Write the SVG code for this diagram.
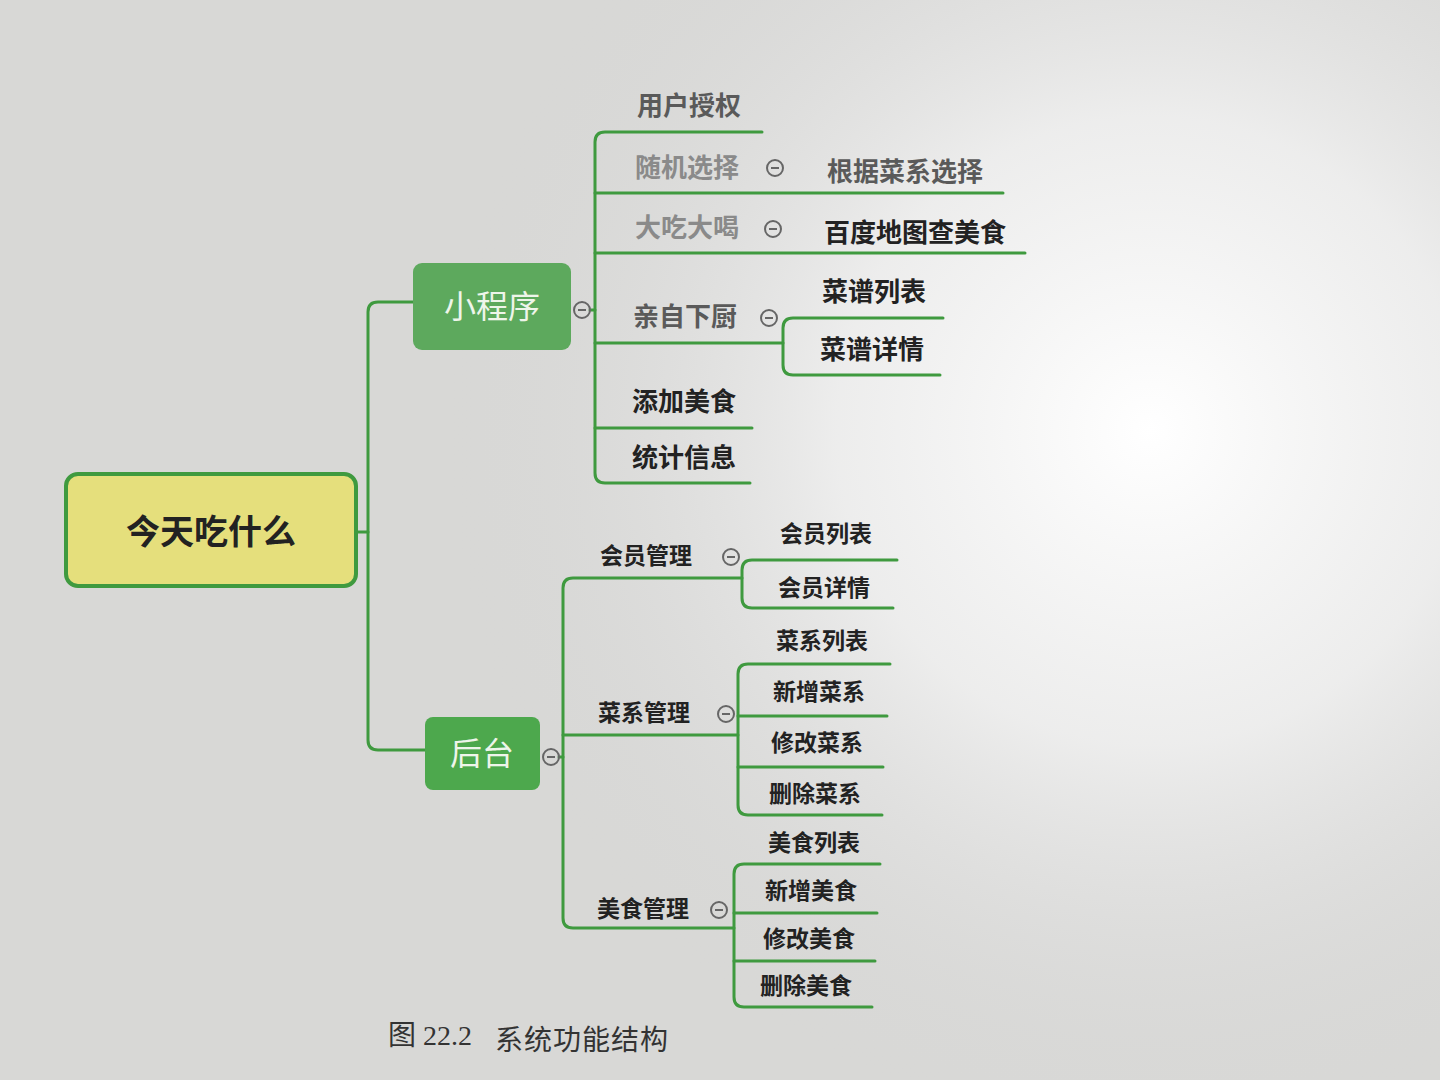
<svg xmlns="http://www.w3.org/2000/svg" xmlns:xlink="http://www.w3.org/1999/xlink" width="1440" height="1080" viewBox="0 0 1440 1080">
<defs>
<radialGradient id="glow" cx="1150" cy="430" r="700" gradientUnits="userSpaceOnUse">
<stop offset="0" stop-color="#ffffff" stop-opacity="1"/>
<stop offset="0.45" stop-color="#f2f2f2" stop-opacity="0.8"/>
<stop offset="1" stop-color="#d6d6d6" stop-opacity="0"/>
</radialGradient>
<g id="col">
<circle cx="0" cy="0" r="8" fill="none" stroke="#666" stroke-width="2"/>
<line x1="-4" y1="0" x2="4" y2="0" stroke="#666" stroke-width="2"/>
</g>
<style>
.bg{fill:#d8d8d6}
.ln{fill:none;stroke:#3f9a3f;stroke-width:3;stroke-linecap:round}
.t{font-family:"Noto Sans CJK SC","Noto Sans",sans-serif;font-weight:bold;fill:#222}
.t1{font-size:26px}
.t2{font-size:23px}
.g1{fill:#5a5a5a}
.g2{fill:#8a8a8a}
.w{fill:#eef5ea;font-family:"Noto Sans CJK SC","Noto Sans",sans-serif;font-size:32px}
.cap{font-family:"Liberation Serif","Noto Sans CJK SC",serif;font-size:28px;fill:#333}
</style>
</defs>
<rect class="bg" x="0" y="0" width="1440" height="1080"/>
<rect x="0" y="0" width="1440" height="1080" fill="url(#glow)"/>

<g id="connectors">
<path class="ln" d="M357,532 H368"/>
<path class="ln" d="M413,302 H378 Q368,302 368,312 V740 Q368,750 378,750 H425"/>
<path class="ln" d="M590,310 H595"/>
<path class="ln" d="M762,132 H605 Q595,132 595,142 V473 Q595,483 605,483 H750"/>
<path class="ln" d="M595,193 H1003"/>
<path class="ln" d="M595,253 H1025"/>
<path class="ln" d="M595,343 H783"/>
<path class="ln" d="M943,318 H793 Q783,318 783,328 V365 Q783,375 793,375 H940"/>
<path class="ln" d="M595,428 H752"/>
<path class="ln" d="M559,757 H563"/>
<path class="ln" d="M742,578 H573 Q563,578 563,588 V918 Q563,928 573,928 H734"/>
<path class="ln" d="M563,735 H738"/>
<path class="ln" d="M897,560 H752 Q742,560 742,570 V598 Q742,608 752,608 H893"/>
<path class="ln" d="M890,664 H748 Q738,664 738,674 V805 Q738,815 748,815 H882"/>
<path class="ln" d="M738,716 H887"/>
<path class="ln" d="M738,767 H883"/>
<path class="ln" d="M880,864 H744 Q734,864 734,874 V997 Q734,1007 744,1007 H872"/>
<path class="ln" d="M734,913 H877"/>
<path class="ln" d="M734,961 H875"/>
</g>

<g id="root">
<rect x="66" y="474" width="290" height="112" rx="12" fill="#e5df7c" stroke="#3f9a3f" stroke-width="4"/>
<text class="t" x="211" y="544" font-size="34" text-anchor="middle" fill="#111">今天吃什么</text>
</g>

<g id="xiaochengxu">
<rect x="413" y="263" width="158" height="87" rx="9" fill="#5da95d"/>
<text class="w" x="492" y="318" text-anchor="middle">小程序</text>
<use xlink:href="#col" href="#col" x="582" y="310"/>
</g>

<g id="houtai">
<rect x="425" y="717" width="115" height="73" rx="8" fill="#4da84d"/>
<text class="w" x="482" y="765" text-anchor="middle">后台</text>
<use xlink:href="#col" href="#col" x="551" y="757"/>
</g>

<g id="n-yonghushouquan"><text class="t t1 g1" x="637" y="115">用户授权</text></g>
<g id="n-suijixuanze"><text class="t t1 g2" x="635" y="177">随机选择</text><use xlink:href="#col" href="#col" x="775" y="168"/></g>
<g id="n-genjucaixi"><text class="t t1 g1" x="827" y="181">根据菜系选择</text></g>
<g id="n-dachidahe"><text class="t t1 g2" x="635" y="237">大吃大喝</text><use xlink:href="#col" href="#col" x="773" y="229"/></g>
<g id="n-baidu"><text class="t t1" x="824" y="242">百度地图查美食</text></g>
<g id="n-qinzixiachu"><text class="t t1 g1" x="633" y="326">亲自下厨</text><use xlink:href="#col" href="#col" x="769" y="318"/></g>
<g id="n-caipuliebiao"><text class="t t1" x="822" y="301">菜谱列表</text></g>
<g id="n-caipuxiangqing"><text class="t t1" x="820" y="359">菜谱详情</text></g>
<g id="n-tianjiameishi"><text class="t t1" x="632" y="411">添加美食</text></g>
<g id="n-tongjixinxi"><text class="t t1" x="632" y="467">统计信息</text></g>

<g id="n-huiyuanguanli"><text class="t t2" x="600" y="564">会员管理</text><use xlink:href="#col" href="#col" x="731" y="557"/></g>
<g id="n-huiyuanliebiao"><text class="t t2" x="780" y="542">会员列表</text></g>
<g id="n-huiyuanxiangqing"><text class="t t2" x="778" y="596">会员详情</text></g>
<g id="n-caixiguanli"><text class="t t2" x="598" y="721">菜系管理</text><use xlink:href="#col" href="#col" x="726" y="714"/></g>
<g id="n-caixiliebiao"><text class="t t2" x="776" y="649">菜系列表</text></g>
<g id="n-xinzengcaixi"><text class="t t2" x="773" y="700">新增菜系</text></g>
<g id="n-xiugaicaixi"><text class="t t2" x="771" y="751">修改菜系</text></g>
<g id="n-shanchucaixi"><text class="t t2" x="769" y="802">删除菜系</text></g>
<g id="n-meishiguanli"><text class="t t2" x="597" y="917">美食管理</text><use xlink:href="#col" href="#col" x="719" y="910"/></g>
<g id="n-meishiliebiao"><text class="t t2" x="768" y="851">美食列表</text></g>
<g id="n-xinzengmeishi"><text class="t t2" x="765" y="899">新增美食</text></g>
<g id="n-xiugaimeishi"><text class="t t2" x="763" y="947">修改美食</text></g>
<g id="n-shanchumeishi"><text class="t t2" x="760" y="994">删除美食</text></g>

<g id="caption">
<text class="cap" x="388" y="1045">图 22.2</text>
<text class="cap" x="495" y="1050" letter-spacing="1">系统功能结构</text>
</g>
</svg>
